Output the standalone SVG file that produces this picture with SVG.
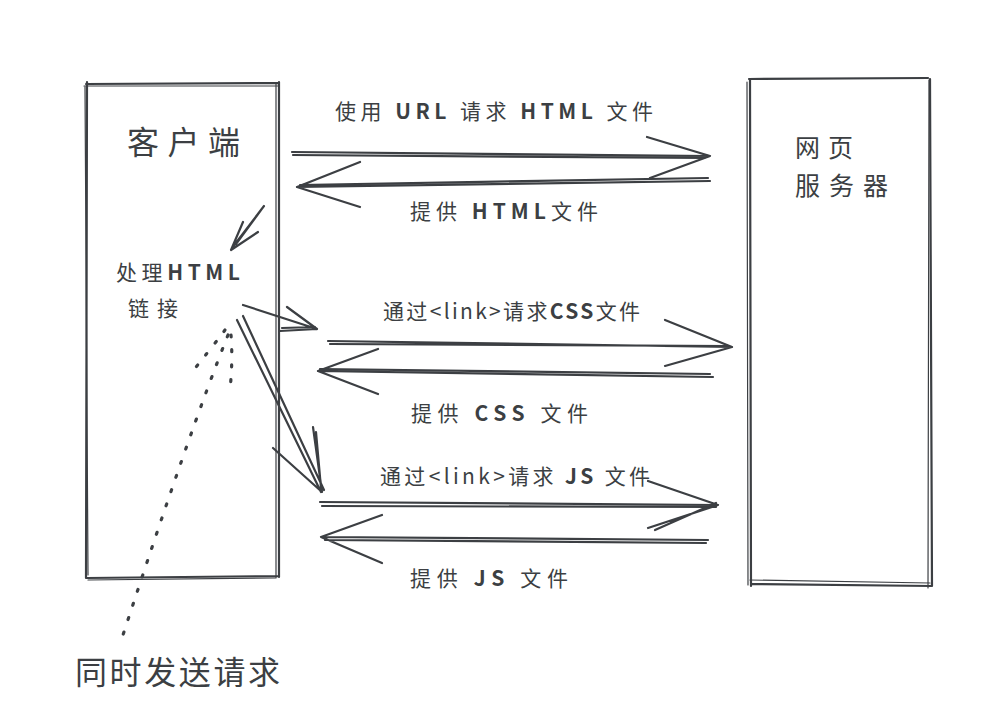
<svg xmlns="http://www.w3.org/2000/svg" width="982" height="724" viewBox="0 0 982 724">
<style>
.s{fill:none;stroke:#3c3f43;stroke-width:2.2;stroke-linecap:round;stroke-linejoin:round}
.t{stroke-width:1.2}
.d{fill:none;stroke:#3c3f43;stroke-width:3.2;stroke-linecap:round;stroke-dasharray:2 13}
text{font-family:"Noto Sans CJK SC","Noto Sans",sans-serif;fill:#3c3f43}
.l{font-size:21px}
.b{font-weight:700}
</style>
<rect width="982" height="724" fill="#ffffff"/>
<g id="client">
<path class="s" d="M86 84 L279 83 M87 82 L86 578 M279 82 L279 577 M87 578 L278 576"/>
<path class="s t" d="M85 87 L88 575 M84 86 L278 86 M276 84 L276 578 M88 580 L275 578"/>
<text x="127" y="154" font-size="32" textLength="113" lengthAdjust="spacing">客户端</text>
<text x="116" y="280" font-size="21" textLength="124" lengthAdjust="spacing">处理<tspan class="b">HTML</tspan></text>
<text x="128" y="316" font-size="21" textLength="50" lengthAdjust="spacing">链接</text>
</g>
<g id="server">
<path class="s" d="M749 79 L928 78 M750 80 L751 586 M930 79 L932 586 M752 584 L932 586"/>
<path class="s t" d="M747 82 L748 585 M929 80 L928 588 M750 580 L930 583"/>
<text x="795" y="157" font-size="25" textLength="58" lengthAdjust="spacing">网页</text>
<text x="795" y="195" font-size="25" textLength="93" lengthAdjust="spacing">服务器</text>
</g>
<g id="connectors">
<path class="s" d="M292 152 L710 156 M293 155 L705 158 M647 137 L710 156 L650 178"/>
<path class="s" d="M710 181 L297 187 M708 178 L300 185 M360 162 L297 187 L360 207"/>
<path class="s" d="M264 206 L232 248 M261 210 L236 244 M258 232 L231 250 L243 222"/>
<path class="s" d="M243 305 L317 329 M287 307 L317 329 L280 331 M282 328 L315 327"/>
<path class="s" d="M328 341 L732 347 M330 344 L728 346 M665 320 L732 347 L665 366"/>
<path class="s" d="M713 377 L318 371 M710 374 L320 369 M378 349 L318 371 L378 394"/>
<path class="s" d="M237 320 L321 492 M243 316 L324 490 M313 427 L322 492 L273 448 M316 432 L321 488"/>
<path class="s" d="M320 502 L718 505 M322 506 L716 507 M648 481 L718 505 L648 528 M655 530 L716 503"/>
<path class="s" d="M708 540 L321 537 M706 543 L325 540 M382 515 L321 537 L382 563"/>
<path class="d" d="M225 330 Q210 350 188 377"/>
<path class="d" d="M228 335 Q190 430 122 638"/>
<path class="d" d="M231 335 Q233 360 230 390"/>
<text class="l" x="335" y="119" textLength="318" lengthAdjust="spacing">使用 <tspan class="b">URL</tspan> 请求 <tspan class="b">HTML</tspan> 文件</text>
<text class="l" x="410" y="219" textLength="188" lengthAdjust="spacing">提供 <tspan class="b">HTML</tspan>文件</text>
<text class="l" x="383" y="319" textLength="257" lengthAdjust="spacing">通过&lt;link&gt;请求<tspan class="b">CSS</tspan>文件</text>
<text class="l" x="411" y="421" textLength="177" lengthAdjust="spacing">提供 <tspan class="b">CSS</tspan> 文件</text>
<text class="l" x="380" y="484" textLength="270" lengthAdjust="spacing">通过&lt;link&gt;请求 <tspan class="b">JS</tspan> 文件</text>
<text class="l" x="410" y="586" textLength="158" lengthAdjust="spacing">提供 <tspan class="b">JS</tspan> 文件</text>
</g>
<text x="75" y="684" font-size="32" textLength="205" lengthAdjust="spacing">同时发送请求</text>
</svg>
